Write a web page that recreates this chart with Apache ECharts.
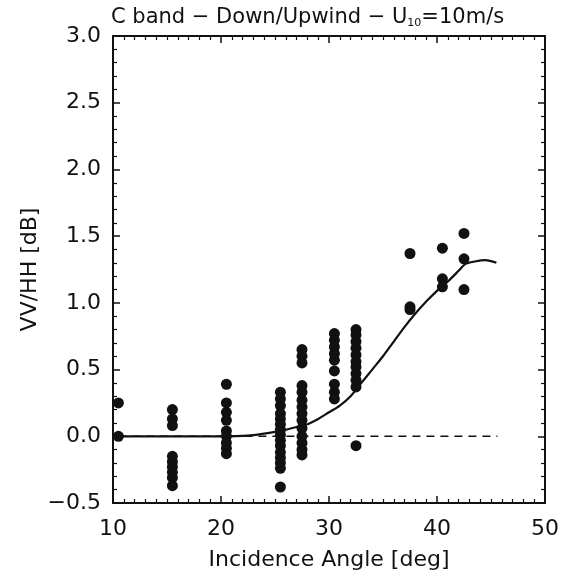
<!DOCTYPE html>
<html>
<head>
<meta charset="utf-8">
<script src="https://cdn.jsdelivr.net/npm/echarts@6/dist/echarts.min.js"></script>
<style>html,body{margin:0;padding:0;background:#fff;}#c{width:565px;height:576px;}</style>
</head>
<body>
<div id="c"></div>
<script>
// Incidence angles of the measurement columns (deg)
const angles = [10.5, 15.5, 20.5, 25.5, 27.5, 30.5, 32.5, 37.5, 40.5, 42.5];
// VV/HH ratio values (dB) for each column
const col105 = [0.25, 0.0];
const col155 = [0.20, 0.13, 0.08, -0.15, -0.19, -0.23, -0.27, -0.31, -0.37];
const col205 = [0.39, 0.25, 0.18, 0.12, 0.04, 0.0, -0.05, -0.09, -0.13];
const col255 = [0.33, 0.28, 0.23, 0.17, 0.13, 0.09, 0.05, 0.01, -0.03, -0.07, -0.12, -0.16, -0.2, -0.24, -0.38];
const col275 = [0.65, 0.6, 0.55, 0.38, 0.33, 0.27, 0.22, 0.17, 0.12, 0.06, 0.0, -0.05, -0.1, -0.14];
const col305 = [0.77, 0.72, 0.67, 0.62, 0.57, 0.49, 0.39, 0.33, 0.28];
const col325 = [0.80, 0.76, 0.71, 0.66, 0.61, 0.56, 0.52, 0.47, 0.42, 0.37, -0.07];
const col375 = [1.37, 0.97, 0.95];
const col405 = [1.41, 1.18, 1.12];
const col425 = [1.52, 1.33, 1.10];
const columns = [col105, col155, col205, col255, col275, col305, col325, col375, col405, col425];

// Model curve
const curveX = [10.5, 15, 20, 22.5, 24, 25.5, 27, 28, 29, 30, 31, 32, 33, 34, 35, 36, 37, 38, 39, 40, 41, 42, 42.6, 43.5, 44.5, 45.5];
const curveY = [0, 0, 0, 0.005, 0.02, 0.04, 0.07, 0.09, 0.13, 0.18, 0.23, 0.30, 0.40, 0.50, 0.60, 0.71, 0.82, 0.92, 1.01, 1.09, 1.16, 1.24, 1.29, 1.31, 1.32, 1.30];

// Zero reference line
const refX = [10.5, 45.6];
const refY = [0, 0];

// Axis ranges / ticks
const xMin = 10, xMax = 50, xStep = 10;
const yMin = -0.5, yMax = 3.0, yStep = 0.5;

const scatterData = [];
angles.forEach((a, i) => columns[i].forEach(v => scatterData.push([a, v])));
const curveData = curveX.map((x, i) => [x, curveY[i]]);
const refData = refX.map((x, i) => [x, refY[i]]);

const FONT = 'DejaVu Sans';
const INK = '#111';

const chart = echarts.init(document.getElementById('c'), null, {renderer: 'canvas'});
const axLine = {show: true, onZero: false, lineStyle: {color: INK, width: 2}};
const axTick = {show: true, inside: true, length: 7, lineStyle: {color: INK, width: 1.5}};
const minor = n => ({show: true, splitNumber: n, length: 4, lineStyle: {color: INK, width: 1.2}});
chart.setOption({
  animation: false,
  backgroundColor: '#fff',
  title: {
    text: 'C band − Down/Upwind − U{sub|10}=10m/s',
    left: 106, top: 1,
    textStyle: {
      fontFamily: FONT, fontSize: 21, fontWeight: 'normal', color: INK,
      rich: {sub: {fontFamily: FONT, fontSize: 11, verticalAlign: 'bottom', padding: [12, 0, 0, 0], color: INK}}
    }
  },
  grid: {left: 113, right: 20, top: 36, bottom: 73, containLabel: false},
  xAxis: [
    {
      type: 'value', position: 'bottom', min: xMin, max: xMax, interval: xStep,
      axisLine: axLine, axisTick: axTick, minorTick: minor(10), splitLine: {show: false},
      name: 'Incidence Angle [deg]', nameLocation: 'middle', nameGap: 46, nameMoveOverlap: false,
      nameTextStyle: {fontFamily: FONT, fontSize: 22, color: INK},
      axisLabel: {fontFamily: FONT, fontSize: 22, color: INK, margin: 15}
    },
    {
      type: 'value', position: 'top', min: xMin, max: xMax, interval: xStep,
      axisLine: axLine, axisTick: axTick, minorTick: minor(10), splitLine: {show: false},
      axisLabel: {show: false}
    }
  ],
  yAxis: [
    {
      type: 'value', position: 'left', min: yMin, max: yMax, interval: yStep,
      axisLine: axLine, axisTick: axTick, minorTick: minor(5), splitLine: {show: false},
      name: 'VV/HH [dB]', nameLocation: 'middle', nameGap: 72, nameRotate: 90, nameMoveOverlap: false,
      nameTextStyle: {fontFamily: FONT, fontSize: 22, color: INK},
      axisLabel: {fontFamily: FONT, fontSize: 22, color: INK, margin: 12,
        formatter: v => v.toFixed(1).replace('-', '−')}
    },
    {
      type: 'value', position: 'right', min: yMin, max: yMax, interval: yStep,
      axisLine: axLine, axisTick: axTick, minorTick: minor(5), splitLine: {show: false},
      axisLabel: {show: false}
    }
  ],
  series: [
    {
      type: 'line', data: refData, xAxisIndex: 0, yAxisIndex: 0,
      symbol: 'none', lineStyle: {color: INK, width: 1.6, type: [8, 6]}, z: 2
    },
    {
      type: 'line', data: curveData, xAxisIndex: 0, yAxisIndex: 0,
      symbol: 'none', smooth: 0.3, lineStyle: {color: INK, width: 2.2}, z: 3
    },
    {
      type: 'scatter', data: scatterData, xAxisIndex: 0, yAxisIndex: 0,
      symbol: 'circle', symbolSize: 11, itemStyle: {color: INK, opacity: 1}, z: 4
    }
  ]
});
</script>
</body>
</html>
